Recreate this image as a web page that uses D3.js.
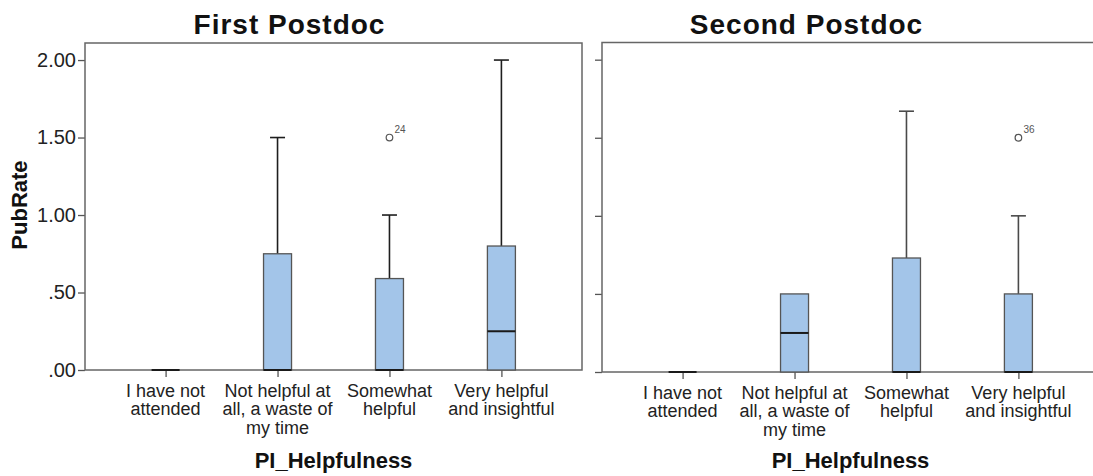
<!DOCTYPE html>
<html lang="en">
<head>
    <meta charset="UTF-8">
    <title>PubRate by PI_Helpfulness</title>
    <script src="https://d3js.org/d3.v7.min.js"></script>
    <style>
        body { margin: 0; background: #fff; }
        svg { display: block; font-family: "Liberation Sans", Arial, sans-serif; }
        .tick line { stroke: #555; stroke-width: 1.3; }
        .tick text { fill: #222; font-size: 20px; }
    </style>
</head>
<body>
    <svg width="1093" height="476"></svg>

    <script>
        // categories and axis labels
        const categories = ['I have not attended', 'Not helpful at all, a waste of my time', 'Somewhat helpful', 'Very helpful and insightful'];
        const categoryLines = [
            ['I have not', 'attended'],
            ['Not helpful at', 'all, a waste of', 'my time'],
            ['Somewhat', 'helpful'],
            ['Very helpful', 'and insightful']
        ];
        const yTicks = [0, 0.5, 1, 1.5, 2];
        const yTickLabels = ['.00', '.50', '1.00', '1.50', '2.00'];

        // First Postdoc box statistics
        const firstQ1 = [0, 0, 0, 0];
        const firstMedian = [0, 0, 0, 0.25];
        const firstQ3 = [0, 0.75, 0.59, 0.80];
        const firstMax = [0, 1.50, 1.00, 2.00];
        const firstOutliers = [{ cat: 2, value: 1.50, label: '24' }];

        // Second Postdoc box statistics
        const secondQ1 = [0, 0, 0, 0];
        const secondMedian = [0, 0.25, 0, 0];
        const secondQ3 = [0, 0.50, 0.73, 0.50];
        const secondMax = [0, 0.50, 1.67, 1.00];
        const secondOutliers = [{ cat: 3, value: 1.50, label: '36' }];

        const svg = d3.select('svg');

        const panels = [
            { title: 'First Postdoc', left: 85, right: 582, top: 43, bottom: 370,
              q1: firstQ1, median: firstMedian, q3: firstQ3, max: firstMax, outliers: firstOutliers,
              tickLabels: true, whisker: '#1e1e1e' },
            { title: 'Second Postdoc', left: 602, right: 1099, top: 42.5, bottom: 372,
              q1: secondQ1, median: secondMedian, q3: secondQ3, max: secondMax, outliers: secondOutliers,
              tickLabels: false, whisker: '#4a4a4a' }
        ];

        const boxW = 28;
        const capW = 15;

        panels.forEach(p => {
            const g = svg.append('g');

            const x = d3.scalePoint()
                .domain(categories)
                .range([p.left, p.right])
                .padding(0.72);

            const y = d3.scaleLinear()
                .domain([0, 2.11])
                .range([p.bottom, p.top]);

            // y axis ticks
            const yAxis = g.append('g')
                .attr('transform', `translate(${p.left},0)`)
                .call(d3.axisLeft(y)
                    .tickValues(yTicks)
                    .tickSize(7)
                    .tickPadding(2)
                    .tickFormat((d, i) => p.tickLabels ? yTickLabels[i] : ''));
            yAxis.select('.domain').remove();

            // x axis ticks, labels drawn below as multi-line text
            const xAxis = g.append('g')
                .attr('transform', `translate(0,${p.bottom})`)
                .call(d3.axisBottom(x).tickSize(7).tickFormat(''));
            xAxis.select('.domain').remove();

            categories.forEach((c, i) => {
                const t = g.append('text')
                    .attr('text-anchor', 'middle')
                    .attr('font-size', 18)
                    .attr('fill', '#222');
                categoryLines[i].forEach((line, j) => {
                    t.append('tspan')
                        .attr('x', x(c))
                        .attr('y', p.bottom + 27 + j * 18.3)
                        .text(line);
                });
            });

            // frame
            g.append('rect')
                .attr('x', p.left)
                .attr('y', p.top)
                .attr('width', p.right - p.left)
                .attr('height', p.bottom - p.top)
                .attr('fill', 'none')
                .attr('stroke', '#666')
                .attr('stroke-width', 1.5);

            // whiskers and caps
            categories.forEach((c, i) => {
                if (p.max[i] > p.q3[i]) {
                    g.append('line')
                        .attr('x1', x(c)).attr('x2', x(c))
                        .attr('y1', y(p.q3[i])).attr('y2', y(p.max[i]))
                        .attr('stroke', p.whisker).attr('stroke-width', 1.6);
                    g.append('line')
                        .attr('x1', x(c) - capW / 2).attr('x2', x(c) + capW / 2)
                        .attr('y1', y(p.max[i])).attr('y2', y(p.max[i]))
                        .attr('stroke', p.whisker).attr('stroke-width', 1.6);
                }
            });

            // boxes
            g.selectAll('.box')
                .data(categories.filter((c, i) => p.q3[i] > p.q1[i]))
                .enter().append('rect')
                .attr('class', 'box')
                .attr('x', c => x(c) - boxW / 2)
                .attr('y', c => y(p.q3[categories.indexOf(c)]))
                .attr('width', boxW)
                .attr('height', c => y(p.q1[categories.indexOf(c)]) - y(p.q3[categories.indexOf(c)]))
                .attr('fill', '#a3c5e9')
                .attr('stroke', '#555')
                .attr('stroke-width', 1.3);

            // medians
            g.selectAll('.median')
                .data(categories)
                .enter().append('line')
                .attr('class', 'median')
                .attr('x1', c => x(c) - boxW / 2)
                .attr('x2', c => x(c) + boxW / 2)
                .attr('y1', (c, i) => y(p.median[i]))
                .attr('y2', (c, i) => y(p.median[i]))
                .attr('stroke', '#1a1a1a')
                .attr('stroke-width', 2);

            // outliers
            p.outliers.forEach(o => {
                const cx = x(categories[o.cat]);
                const cy = y(o.value);
                g.append('circle')
                    .attr('cx', cx).attr('cy', cy).attr('r', 3.3)
                    .attr('fill', 'white')
                    .attr('stroke', '#555')
                    .attr('stroke-width', 1.2);
                g.append('text')
                    .attr('x', cx + 5)
                    .attr('y', cy - 5)
                    .attr('font-size', 10)
                    .attr('fill', '#555')
                    .text(o.label);
            });

            // titles
            g.append('text')
                .attr('x', (p.left + p.right) / 2 - 44)
                .attr('y', 34)
                .attr('text-anchor', 'middle')
                .attr('font-size', 28)
                .attr('font-weight', 'bold')
                .attr('letter-spacing', 1)
                .attr('fill', '#111')
                .text(p.title);

            g.append('text')
                .attr('x', (p.left + p.right) / 2)
                .attr('y', 468)
                .attr('text-anchor', 'middle')
                .attr('font-size', 22)
                .attr('font-weight', 'bold')
                .attr('fill', '#111')
                .text('PI_Helpfulness');
        });

        // y axis label
        svg.append('text')
            .attr('transform', 'translate(27,205) rotate(-90)')
            .attr('text-anchor', 'middle')
            .attr('font-size', 22)
            .attr('font-weight', 'bold')
            .attr('fill', '#111')
            .text('PubRate');
    </script>
</body>
</html>
